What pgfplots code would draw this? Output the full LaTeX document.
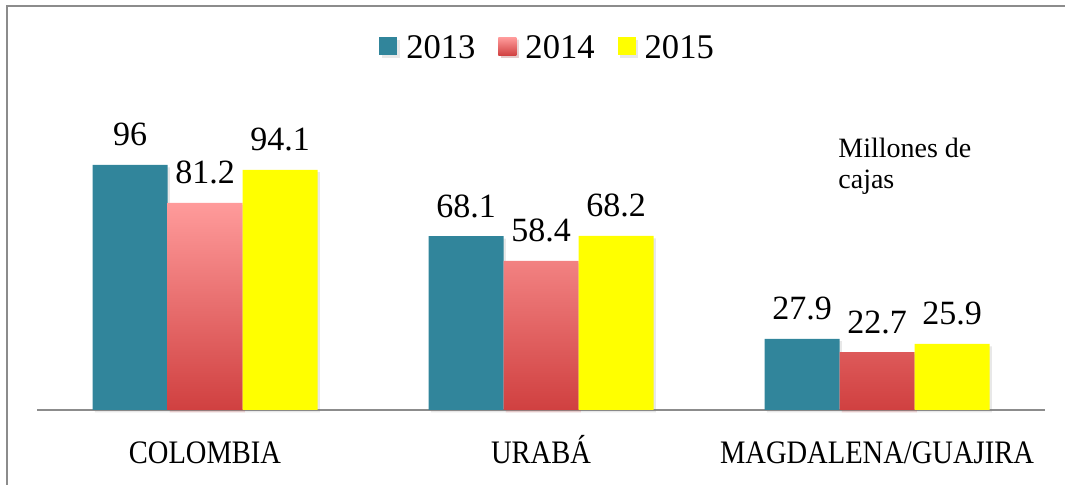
\documentclass[border=0pt]{standalone}
\usepackage{fontspec}
\setmainfont{Liberation Serif}
\newfontfamily\catfont[FakeStretch=0.87]{Liberation Serif}
\usepackage{pgfplots}
\pgfplotsset{compat=1.18}
\usetikzlibrary{shadows}
\definecolor{teal13}{RGB}{49,133,155}
\definecolor{pinktop}{RGB}{255,155,155}
\definecolor{redbot}{RGB}{208,64,64}
\definecolor{yel}{RGB}{255,255,0}
\definecolor{framegray}{RGB}{140,140,140}
\begin{document}
\begin{tikzpicture}
\path[use as bounding box] (0,0) rectangle (532.5pt,242.5pt);
\draw[framegray, line width=1pt] (3.5pt,0) -- (3.5pt,239.5pt) -- (533pt,239.5pt);
\begin{axis}[
  at={(18.5pt,37.5pt)}, anchor=south west,
  scale only axis, width=504pt, height=127.6pt,
  xmin=-0.5, xmax=2.5, ymin=0, ymax=100,
  ybar=0pt, bar width=37.5pt,
  axis x line=bottom, axis y line=none,
  x axis line style={-, draw=framegray, line width=1pt},
  xtick={0,1,2}, xticklabels={COLOMBIA, URABÁ, MAGDALENA/GUAJIRA},
  xtick style={draw=none}, major tick length=0pt,
  xticklabel style={font=\catfont\fontsize{16.4}{19}\selectfont, anchor=base, yshift=-27pt},
  clip=false,
  /pgf/number format/assume math mode=true,
  nodes near coords,
  nodes near coords style={font=\fontsize{17}{20}\selectfont, text=black, anchor=base, yshift=9.5pt, fill=none, shade=false},
  legend columns=3,
  legend style={at={(0.510,1.4146)}, anchor=center, draw=none, fill=none,
    font=\fontsize{17.3}{19}\selectfont,
    nodes={inner xsep=4.5pt, inner ysep=0pt},
    /tikz/every even column/.append style={column sep=7pt}},
  legend image code/.code={\path[#1] (0pt,-3.25pt) rectangle (9pt,5.75pt);},
]
\addplot[fill=teal13, draw=none, drop shadow={shadow xshift=1.2pt, shadow yshift=-1.2pt, opacity=0.18}]
  coordinates {(0,96) (1,68.1) (2,27.9)};
\addplot[top color=pinktop, bottom color=redbot, draw=none, drop shadow={shadow xshift=1.2pt, shadow yshift=-1.2pt, opacity=0.18}]
  coordinates {(0,81.2) (1,58.4) (2,22.7)};
\addplot[fill=yel, draw=none, drop shadow={shadow xshift=1.2pt, shadow yshift=-1.2pt, opacity=0.18}]
  coordinates {(0,94.1) (1,68.2) (2,25.9)};
\legend{2013,2014,2015}
\end{axis}
\node[anchor=north west, inner sep=0pt, align=left, font=\fontsize{14}{15.5}\selectfont] at (419pt,173.5pt) {Millones de\\cajas};
\end{tikzpicture}
\end{document}
